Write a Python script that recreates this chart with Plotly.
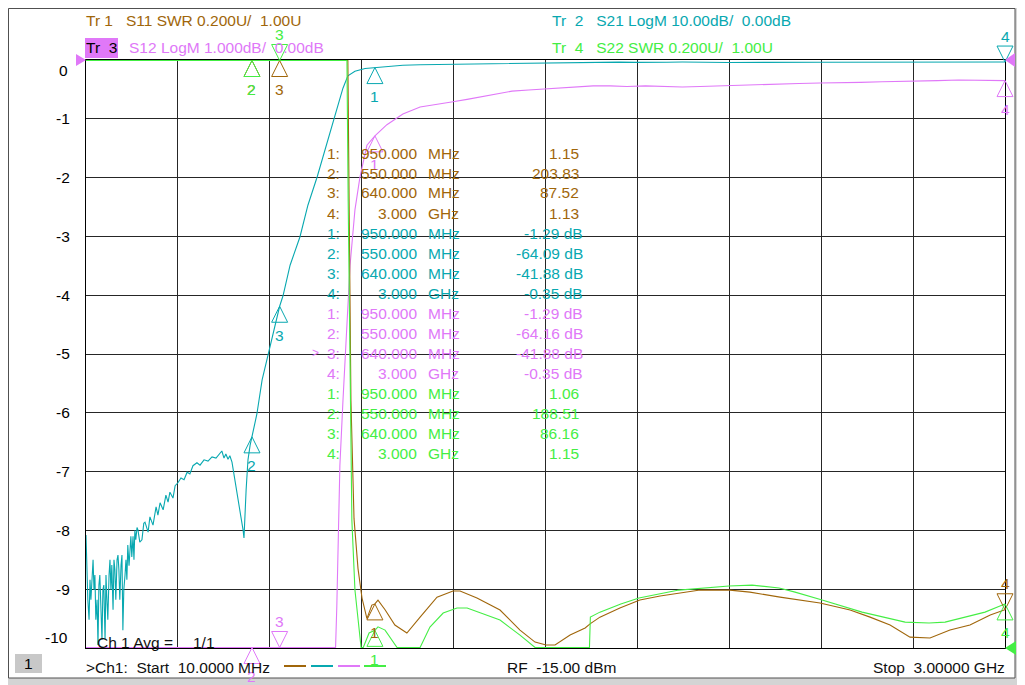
import numpy as np
import plotly.graph_objects as go

# ---- traces (freq in MHz) ----
s21_freq = [10, 13, 16, 20, 23, 26, 29, 33, 36, 39, 42, 46, 49, 52, 55, 59, 62, 65, 68, 72,
            75, 78, 81, 85, 88, 91, 94, 98, 101, 104, 107, 111, 114, 117, 120, 124, 127, 130,
            133, 137, 140, 143, 146, 150, 153, 156, 159, 163, 166, 169, 172, 176, 179, 185,
            192, 198, 202, 212, 218, 228, 238, 244, 251, 261, 270, 277, 283, 293, 300, 309,
            319, 329, 339, 348, 358, 371, 381, 394, 407, 420, 433, 446, 452, 459, 465, 472,
            478, 485, 495, 505, 514, 521, 524, 531, 537, 544, 550, 566, 583, 602, 625, 640,
            651, 674, 706, 732, 762, 788, 810, 830, 846, 862, 885, 918, 950, 989, 1041, 1097,
            1204, 1292, 1396, 1507, 1600, 1650, 1744, 1800, 1850, 1900, 1950, 1992, 2100,
            2400, 2658, 3000]
s21_db = [-80.8, -87.6, -91.8, -95.2, -88.4, -91.8, -87.6, -85.0, -90.1, -87.6, -95.2, -91.8,
          -99.5, -89.3, -87.6, -93.5, -98.6, -90.1, -89.3, -98.6, -87.6, -91.8, -95.2, -87.6,
          -85.0, -90.1, -85.9, -93.5, -85.0, -86.7, -91.8, -85.0, -84.2, -86.7, -91.8, -85.9,
          -84.2, -97.0, -90.1, -87.6, -85.0, -88.4, -82.5, -86.0, -83.3, -81.0, -84.5, -81.0,
          -85.0, -80.0, -81.6, -79.5, -79.9, -82.0, -81.6, -78.8, -78.6, -80.3, -77.7, -79.1,
          -76.0, -77.4, -75.3, -76.5, -74.0, -75.2, -73.5, -74.5, -72.4, -71.9, -71.1, -71.4,
          -70.1, -70.4, -69.0, -68.5, -68.9, -68.0, -68.2, -67.5, -67.7, -66.8, -66.5, -67.7,
          -67.0, -67.9, -67.3, -68.4, -71.4, -74.3, -77.7, -79.9, -81.3, -73.1, -68.0, -65.5,
          -64.09, -60.2, -54.4, -50.2, -45.1, -41.88, -40.1, -34.9, -30.1, -24.7, -19.9,
          -15.3, -11.1, -7.7, -4.8, -2.7, -1.9, -1.45, -1.29, -1.1, -0.9, -0.8, -0.71, -0.63,
          -0.53, -0.49, -0.45, -0.42, -0.36, -0.40, -0.34, -0.38, -0.35, -0.40, -0.42, -0.39,
          -0.36, -0.35]

s12_freq = [10, 300, 550, 640, 760, 810, 815, 822, 826, 830, 836, 846, 859, 869, 885, 901, 924,
            950, 989, 1041, 1097, 1150, 1204, 1250, 1292, 1350, 1396, 1450, 1507, 1560, 1610,
            1660, 1715, 1770, 1830, 1890, 1950, 2008, 2070, 2130, 2200, 2270, 2330, 2398, 2460,
            2530, 2600, 2658, 2720, 2780, 2850, 2900, 2950, 3000]
s12_db = [-82.0, -72.0, -64.16, -41.88, -20.0, -11.5, -13.0, -10.5, -9.3, -8.5, -6.9, -5.8,
          -4.6, -3.5, -2.55, -2.0, -1.45, -1.29, -1.1, -0.92, -0.8, -0.75, -0.71, -0.67, -0.63,
          -0.57, -0.53, -0.51, -0.49, -0.47, -0.45, -0.44, -0.44, -0.45, -0.44, -0.45, -0.46,
          -0.45, -0.44, -0.42, -0.42, -0.41, -0.40, -0.39, -0.38, -0.38, -0.37, -0.36, -0.35,
          -0.35, -0.34, -0.34, -0.35, -0.35]

s11_freq = [10, 200, 400, 550, 640, 750, 820, 855, 862, 866, 872, 882, 895, 908, 924, 940, 950,
            960, 983, 1015, 1054, 1097, 1152, 1204, 1227, 1282, 1357, 1422, 1471, 1507, 1536,
            1585, 1634, 1650, 1682, 1747, 1812, 1878, 1943, 2008, 2105, 2170, 2268, 2333, 2398,
            2496, 2561, 2626, 2691, 2756, 2821, 2886, 2952, 3000]
s11_swr = [300, 250, 230, 203.83, 87.52, 30, 8, 3.5, 3.0, 2.52, 1.84, 1.44, 1.27, 1.17, 1.10,
           1.146, 1.15, 1.163, 1.13, 1.078, 1.051, 1.105, 1.173, 1.194, 1.194, 1.17, 1.129,
           1.061, 1.02, 1.01, 1.01, 1.044, 1.068, 1.082, 1.105, 1.136, 1.163, 1.177, 1.187,
           1.197, 1.197, 1.19, 1.173, 1.163, 1.153, 1.129, 1.105, 1.078, 1.037, 1.034, 1.061,
           1.078, 1.112, 1.13]

s22_freq = [10, 200, 400, 550, 640, 750, 820, 852, 859, 863, 869, 875, 885, 898, 905, 912, 931,
            950, 960, 983, 1006, 1022, 1097, 1129, 1172, 1217, 1250, 1292, 1357, 1422, 1471,
            1648, 1651, 1682, 1750, 1809, 1939, 2102, 2177, 2265, 2317, 2405, 2535, 2675, 2753,
            2805, 2860, 2935, 3000]
s22_swr = [280, 240, 210, 188.51, 86.16, 28, 7, 3.6, 3.0, 2.52, 1.84, 1.435, 1.197, 1.061, 1.0,
           1.0, 1.051, 1.06, 1.072, 1.061, 1.027, 1.0, 1.0, 1.071, 1.119, 1.136, 1.136, 1.119,
           1.095, 1.044, 1.0, 1.0, 1.105, 1.122, 1.15, 1.17, 1.197, 1.211, 1.214, 1.204, 1.19,
           1.163, 1.122, 1.088, 1.085, 1.088, 1.102, 1.122, 1.15]

# markers 1..4
marker_freq = [950, 550, 640, 3000]
s11_mk = [1.15, 203.83, 87.52, 1.13]
s21_mk = [-1.29, -64.09, -41.88, -0.35]
s12_mk = [-1.29, -64.16, -41.88, -0.35]
s22_mk = [1.06, 188.51, 86.16, 1.15]

ytick_vals = [-9, -8, -7, -6, -5, -4, -3, -2, -1]

BROWN = '#a0660a'
CYAN = '#08a8b0'
MAGENTA = '#e078f8'
GREEN = '#44ee44'
FONT = 'Liberation Sans, Arial, sans-serif'
FS = 15.5

# the page body has an 8px margin, so the figure sits at (8, 8) on screen
OFF = 8
W, H = 1025 - OFF, 685 - OFF
# plot area in screen pixels
L, R, T, B = 86, 1005, 60, 648


def px(x):
    return (x - L) / (R - L)


def py(y):
    return (B - y) / (B - T)


def clamp(v, lo, hi):
    # instrument draws out-of-range points on the graticule edge
    pad = (hi - lo) / (B - T) * 0.5
    return np.clip(np.array(v, dtype=float), lo + pad, hi - pad)


SWR = (1.0, 3.0)
S21R = (-100.0, 0.0)
S12R = (-10.0, 0.0)

fig = go.Figure()
fig.add_trace(go.Scatter(x=s11_freq, y=clamp(s11_swr, *SWR), yaxis='y3', mode='lines',
                         line=dict(color=BROWN, width=1.1)))
fig.add_trace(go.Scatter(x=s21_freq, y=clamp(s21_db, *S21R), yaxis='y2', mode='lines',
                         line=dict(color=CYAN, width=1.1)))
fig.add_trace(go.Scatter(x=s12_freq, y=clamp(s12_db, *S12R), yaxis='y', mode='lines',
                         line=dict(color=MAGENTA, width=1.1)))
fig.add_trace(go.Scatter(x=s22_freq, y=clamp(s22_swr, *SWR), yaxis='y3', mode='lines',
                         line=dict(color=GREEN, width=1.1)))

UP, DN = 'arrow-up-open', 'arrow-down-open'
mk_sets = [
    (s11_mk, SWR, 'y3', BROWN, [UP, UP, UP, DN]),
    (s21_mk, S21R, 'y2', CYAN, [UP, UP, UP, DN]),
    (s12_mk, S12R, 'y', MAGENTA, [UP, UP, DN, UP]),
    (s22_mk, SWR, 'y3', GREEN, [UP, UP, DN, UP]),
]
annotations = []
for vals, rng, yax, col, syms in mk_sets:
    yv = clamp(vals, *rng)
    fig.add_trace(go.Scatter(x=marker_freq, y=yv, yaxis=yax, mode='markers', cliponaxis=False,
                             marker=dict(symbol=syms, size=16, color=col,
                                         line=dict(width=1, color=col))))
    for i, (f, v) in enumerate(zip(marker_freq, yv)):
        annotations.append(dict(x=f, y=v, xref='x', yref=yax, text=str(i + 1), showarrow=False,
                                yshift=-29 if syms[i] == UP else 26, yanchor='middle',
                                font=dict(family=FONT, size=FS, color=col)))

# marker table
row = 0
for vals, is_db, col in [(s11_mk, False, BROWN), (s21_mk, True, CYAN),
                         (s12_mk, True, MAGENTA), (s22_mk, False, GREEN)]:
    for i, (f, v) in enumerate(zip(marker_freq, vals)):
        yy = py(153 + 20 * row)
        if f < 1000:
            fs, unit = f'{f:.3f}', 'MHz'
        else:
            fs, unit = f'{f / 1000:.3f}', 'GHz'
        vs = f'{v:.2f} dB' if is_db else f'{v:.2f}'
        for text, x, anc in [(f'{i + 1}:', 342, 'right'), (fs, 419, 'right'),
                             (unit, 426, 'left'), (vs, 585 if is_db else 581, 'right')]:
            annotations.append(dict(x=px(x), y=yy, xref='paper', yref='paper', text=text,
                                    showarrow=False, xanchor=anc, yanchor='middle',
                                    font=dict(family=FONT, size=FS, color=col)))
        row += 1
annotations.append(dict(x=px(321), y=py(353), xref='paper', yref='paper', text='>',
                        showarrow=False, xanchor='right', yanchor='middle',
                        font=dict(family=FONT, size=12, color=MAGENTA)))


def label(text, x, y, col='#101010', anc='left', size=FS):
    annotations.append(dict(x=px(x), y=py(y), xref='paper', yref='paper', text=text,
                            showarrow=False, xanchor=anc, yanchor='middle',
                            font=dict(family=FONT, size=size, color=col)))


nb = '\u00a0'
label(f'Tr{nb}1{nb}{nb}{nb}S11 SWR 0.200U/{nb}{nb}1.00U', 84, 21, BROWN)
label(f'Tr{nb}{nb}3', 84, 48, '#000000')
label(f'S12 LogM 1.000dB/{nb}{nb}0.00dB', 127, 48, MAGENTA)
label(f'Tr{nb}{nb}2{nb}{nb}{nb}S21 LogM 10.00dB/{nb}{nb}0.00dB', 550, 21, CYAN)
label(f'Tr{nb}{nb}4{nb}{nb}{nb}S22 SWR 0.200U/{nb}{nb}1.00U', 550, 48, GREEN)
label('0', 70, 70, '#000000', 'right')
label('-10', 70, 637, '#000000', 'right')
label(f'Ch 1 Avg ={nb}', 95, 642)
label('1/1', 191, 642)
label(f'>Ch1:{nb}{nb}Start{nb}{nb}10.0000 MHz', 84, 667)
label(f'RF{nb}{nb}-15.00 dBm', 505, 667)
label(f'Stop{nb}{nb}3.00000 GHz', 1007, 667, anc='right')
label('1', 28, 663, '#000000', 'center')

shapes = [
    dict(type='rect', xref='paper', yref='paper', x0=px(OFF + 0.5), x1=px(1015), y0=py(678),
         y1=py(OFF + 0.5), fillcolor='white', line=dict(color='#505050', width=1),
         layer='below'),
    dict(type='rect', xref='paper', yref='paper', x0=px(15), x1=px(42), y0=py(673), y1=py(654),
         fillcolor='#c8c8c8', line=dict(width=0), layer='below'),
    dict(type='rect', xref='paper', yref='paper', x0=px(85), x1=px(118), y0=py(58), y1=py(38),
         fillcolor=MAGENTA, line=dict(width=0), layer='below'),
]
for col, x0, x1 in [(BROWN, 284, 306), (CYAN, 311, 333), (MAGENTA, 338, 360), (GREEN, 364, 386)]:
    shapes.append(dict(type='line', xref='paper', yref='paper', x0=px(x0), x1=px(x1),
                       y0=py(666), y1=py(666), line=dict(color=col, width=2)))
# reference position indicators
for xa, ya, path, col in [(0, 1, 'M0,0 L-10,6 L-10,-6 Z', MAGENTA),
                          (1, 1, 'M0,0 L10,7 L10,-7 Z', MAGENTA),
                          (1, 0, 'M0,0 L11,7 L11,-7 Z', GREEN)]:
    shapes.append(dict(type='path', xref='paper', yref='paper', xsizemode='pixel',
                       ysizemode='pixel', xanchor=xa, yanchor=ya, path=path,
                       fillcolor=col, line=dict(width=0)))

fig.update_layout(
    width=W, height=H,
    margin=dict(l=L - OFF, r=W - (R - OFF), t=T - OFF, b=H - (B - OFF), pad=0),
    paper_bgcolor='#d4d4d4', plot_bgcolor='white',
    showlegend=False,
    font=dict(family=FONT, size=FS, color='#000000'),
    xaxis=dict(range=[10, 3000], tick0=10, dtick=299, showticklabels=False, ticks='',
               showgrid=True, gridcolor='#262626', gridwidth=1, zeroline=False,
               showline=True, linecolor='#000000', linewidth=1, mirror=True,
               layer='below traces', fixedrange=True),
    yaxis=dict(range=list(S12R), tickvals=ytick_vals, ticktext=[str(v) for v in ytick_vals],
               ticks='outside', ticklen=12, tickcolor='rgba(0,0,0,0)',
               tickfont=dict(family=FONT, size=FS, color='#000000'),
               showgrid=True, gridcolor='#262626', gridwidth=1, zeroline=False,
               showline=True, linecolor='#000000', linewidth=1, mirror=True,
               layer='below traces', fixedrange=True),
    yaxis2=dict(range=list(S21R), overlaying='y', visible=False, fixedrange=True),
    yaxis3=dict(range=list(SWR), overlaying='y', visible=False, fixedrange=True),
    annotations=annotations,
    shapes=shapes,
)

fig.write_html("out.html")
